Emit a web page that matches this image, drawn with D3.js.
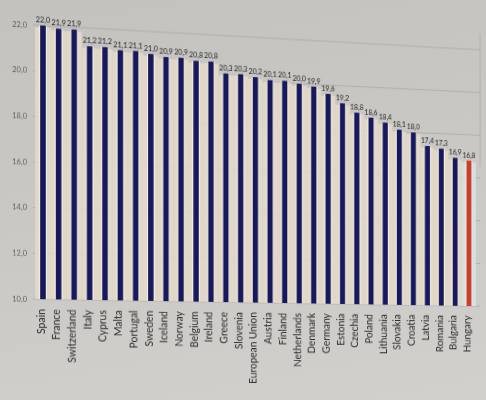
<!DOCTYPE html>
<html>
<head>
<meta charset="utf-8">
<script src="https://cdn.jsdelivr.net/npm/d3@7"></script>
<style>
  html, body { margin: 0; padding: 0; width: 486px; height: 400px; overflow: hidden; }
  body { background: linear-gradient(170deg, #c3c2be 0%, #c9c8c4 45%, #d1d0cd 100%); }
  #chart { position: absolute; left: 0; top: 0; transform-origin: 0 0; }
  text { font-family: Lato, "Open Sans", sans-serif; }
</style>
</head>
<body>
<svg id="chart" width="540" height="420"></svg>
<script>
const categories = ["Spain","France","Switzerland","Italy","Cyprus","Malta","Portugal","Sweden","Iceland","Norway","Belgium","Ireland","Greece","Slovenia","European Union","Austria","Finland","Netherlands","Denmark","Germany","Estonia","Czechia","Poland","Lithuania","Slovakia","Croatia","Latvia","Romania","Bulgaria","Hungary"];
const values = [22.0,21.9,21.9,21.2,21.2,21.1,21.1,21.0,20.9,20.9,20.8,20.8,20.3,20.3,20.2,20.1,20.1,20.0,19.9,19.6,19.2,18.8,18.6,18.4,18.1,18.0,17.4,17.3,16.9,16.8];
const highlight = ["Hungary"];
const yTicks = [10,12,14,16,18,20,22];

const data = categories.map((c, i) => ({ name: c, value: values[i] }));
const fmt = v => d3.format(".1f")(v).replace(".", ",");

// perspective of the photographed screen (homography)
const g = 0.0001444, dsh = 0.0592;
const m = [1 + 33 * g, dsh, 0, g,  0, 1, 0, 0,  0, 0, 1, 0,  -1089 * g, -33 * dsh, 0, 1 - 33 * g];
d3.select("#chart").style("transform", "matrix3d(" + m.join(",") + ")");

const svg = d3.select("#chart");
const x = d3.scaleBand().domain(categories).range([35.15, 506.15]).paddingInner(0.64).paddingOuter(0.32);
const y = d3.scaleLinear().domain([10, 22]).range([299, 25]);
const step = x.step();

// gridlines
svg.append("g").selectAll("line").data(yTicks).join("line")
  .attr("x1", 33).attr("x2", 511)
  .attr("y1", d => y(d)).attr("y2", d => y(d))
  .attr("stroke", "#aaaaa8").attr("stroke-width", 0.9);

// right border of plot
svg.append("line").attr("x1", 511).attr("x2", 511).attr("y1", 8).attr("y2", 150)
  .attr("stroke", "#adadab").attr("stroke-width", 0.9);

// light columns behind bars
svg.append("g").selectAll("rect").data(data).join("rect")
  .attr("x", d => x(d.name) + x.bandwidth() / 2 - step / 2)
  .attr("width", step)
  .attr("y", d => y(d.value) + 2)
  .attr("height", d => y(10) - y(d.value) - 2)
  .attr("fill", d => highlight.includes(d.name) ? "#d6e2e6" : "#e4d9c7")
  .attr("opacity", 0.88);

// halos
svg.append("g").selectAll("rect").data(data).join("rect")
  .attr("x", d => x(d.name) - 1.2)
  .attr("width", x.bandwidth() + 2.4)
  .attr("y", d => y(d.value))
  .attr("height", d => y(10) - y(d.value))
  .attr("fill", "#f5f1ea").attr("opacity", 0.8);

// bars
svg.append("g").selectAll("rect").data(data).join("rect")
  .attr("x", d => x(d.name))
  .attr("width", x.bandwidth())
  .attr("y", d => y(d.value))
  .attr("height", d => y(10) - y(d.value))
  .attr("fill", d => highlight.includes(d.name) ? "#c8412b" : "#17195c");

// value labels
svg.append("g").selectAll("text").data(data).join("text")
  .attr("x", d => x(d.name) + x.bandwidth() / 2)
  .attr("y", d => y(d.value) - 3)
  .attr("text-anchor", "middle")
  .attr("font-size", "7.3px")
  .attr("fill", "#222")
  .text(d => fmt(d.value));

// y axis labels
svg.append("g").selectAll("text").data(yTicks).join("text")
  .attr("x", 27).attr("y", d => y(d)).attr("dy", "0.35em")
  .attr("text-anchor", "end").attr("font-size", "7.5px").attr("fill", "#606060")
  .text(d => fmt(d));

// x labels
svg.append("g").selectAll("text").data(data).join("text")
  .attr("transform", d => `translate(${x(d.name) + x.bandwidth() / 2 - 2},309) rotate(-90)`)
  .attr("dy", "0.35em")
  .attr("text-anchor", "end")
  .attr("font-size", "10.5px")
  .attr("fill", "#2a2a2a")
  .text(d => d.name);
</script>
</body>
</html>
